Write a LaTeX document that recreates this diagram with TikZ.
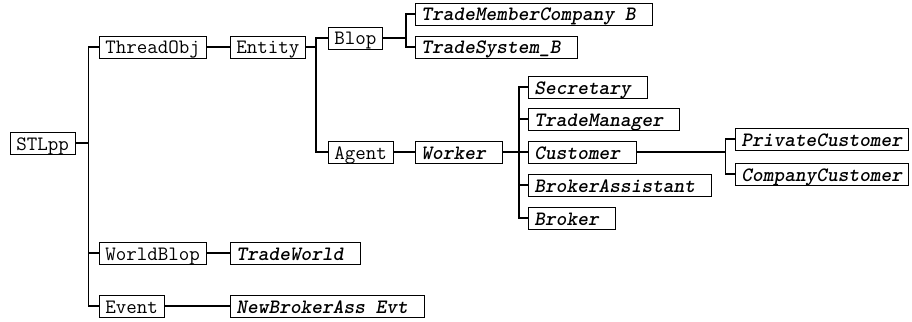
\documentclass[tikz,border=0pt]{standalone}
\usepackage{fontspec}
\newfontfamily\leaffont{lmmonolt10-boldoblique.otf}
\usepackage{tikz}
\tikzset{
    box/.style={draw,black,line width=0.9pt,anchor=west,inner xsep=6pt,inner ysep=0pt,
        minimum height=22pt,text height=18pt,text depth=4pt,font=\ttfamily\fontsize{20.4}{22}\selectfont},
    leaf/.style={box,font=\leaffont\fontsize{20.4}{22}\selectfont},
    link/.style={black,line width=1.4pt},
    directlink/.style={black,line width=2pt}
}
\newcommand{\pad}{\hphantom{x}}

\begin{document}
\begin{tikzpicture}[x=1pt,y=-1pt]
\useasboundingbox (0,0) rectangle (912,321);
\node[box](STLpp) at (10,143){STLpp};
\node[box](ThreadObj) at (99,47){ThreadObj};
\node[box](Entity) at (230,47){Entity};
\node[box](Blop) at (328,38){Blop};
\node[leaf](TradeMemberCompany) at (415,14){TradeMemberCompany B\pad};
\node[leaf](TradeSystem) at (415,47){TradeSystem\_B\pad};
\node[box](Agent) at (328,152){Agent};
\node[leaf](Worker) at (415,152){Worker\pad};
\node[leaf](Secretary) at (528,87){Secretary\pad};
\node[leaf](TradeManager) at (528,119){TradeManager\pad};
\node[leaf](Customer) at (528,152){Customer\pad};
\node[leaf](BrokerAssistant) at (528,185){BrokerAssistant\pad};
\node[leaf](Broker) at (528,218){Broker\pad};
\node[leaf](PrivateCustomer) at (735,139){PrivateCustomer};
\node[leaf](CompanyCustomer) at (735,174){CompanyCustomer};
\node[box](WorldBlop) at (99,253){WorldBlop};
\node[leaf](TradeWorld) at (230,253){TradeWorld\pad};
\node[box](Event) at (99,306){Event};
\node[leaf](NewBrokerAssEvt) at (230,306){NewBrokerAss Evt\pad};

\draw[link](STLpp.east)--++(13,0)coordinate(t0);
\foreach \n in {ThreadObj,WorldBlop,Event}
    \draw[link](t0)|-(\n.west);
\draw[link](Entity.east)--++(10,0)coordinate(t1);
\foreach \n in {Blop,Agent}
    \draw[link](t1)|-(\n.west);
\draw[link](Blop.east)--++(23,0)coordinate(t2);
\foreach \n in {TradeMemberCompany,TradeSystem}
    \draw[link](t2)|-(\n.west);
\draw[link](Worker.east)--++(16,0)coordinate(t3);
\foreach \n in {Secretary,TradeManager,Customer,BrokerAssistant,Broker}
    \draw[link](t3)|-(\n.west);
\draw[directlink](Customer.east)--++(88,0)coordinate(t4);
\foreach \n in {PrivateCustomer,CompanyCustomer}
    \draw[link](t4)|-(\n.west);

\draw[directlink](ThreadObj.east)--(Entity.west);
\draw[directlink](Agent.east)--(Worker.west);
\draw[directlink](WorldBlop.east)--(TradeWorld.west);
\draw[directlink](Event.east)--(NewBrokerAssEvt.west);
\end{tikzpicture}
\end{document}
